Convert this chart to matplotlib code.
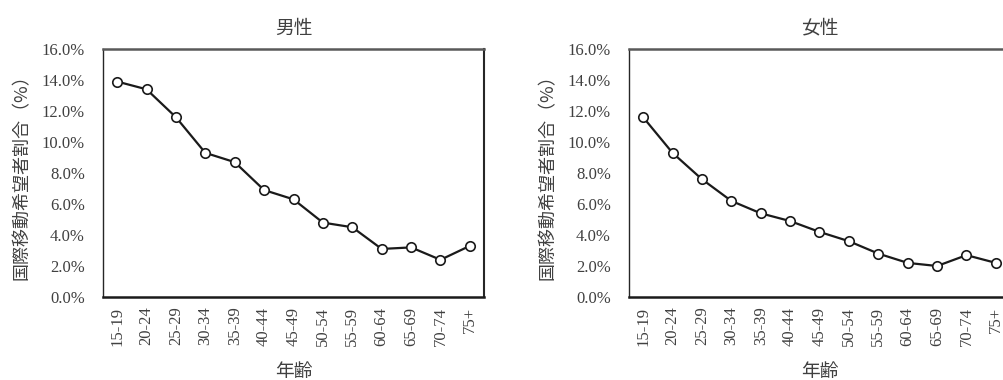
import matplotlib
matplotlib.use("Agg")
import matplotlib.pyplot as plt
from matplotlib.ticker import FuncFormatter, MultipleLocator

age_groups = ["15-19", "20-24", "25-29", "30-34", "35-39", "40-44", "45-49",
              "50-54", "55-59", "60-64", "65-69", "70-74", "75+"]
male_pct = [13.9, 13.4, 11.6, 9.3, 8.7, 6.9, 6.3, 4.8, 4.5, 3.1, 3.2, 2.4, 3.3]
female_pct = [11.6, 9.3, 7.6, 6.2, 5.4, 4.9, 4.2, 3.6, 2.8, 2.2, 2.0, 2.7, 2.2]
panel_titles = ["男性", "女性"]
y_label = "国際移動希望者割合（%）"
x_label = "年齢"

JP = ["Noto Sans CJK JP", "DejaVu Sans"]
NUM = ["Liberation Serif", "DejaVu Serif"]
TEXT_COLOR = "#404040"
LINE_COLOR = "#1a1a1a"

fig = plt.figure(figsize=(10.04, 3.8), dpi=100)
W, H = 1004, 380
ax_w = (484 - 103) / W
ax_b = 1 - 297 / H
ax_h = (297 - 49) / H
positions = [[103 / W, ax_b, ax_w, ax_h], [629 / W, ax_b, ax_w, ax_h]]

for pos, title, values in zip(positions, panel_titles, [male_pct, female_pct]):
    ax = fig.add_axes(pos)
    x = list(range(len(age_groups)))
    ax.plot(x, values, color=LINE_COLOR, lw=1.6, marker="o", ms=6.8,
            mfc="white", mec=LINE_COLOR, mew=1.2, zorder=3)
    ax.set_xlim(-0.48, len(age_groups) - 0.52)
    ax.set_ylim(0, 16)
    ax.yaxis.set_major_locator(MultipleLocator(2))
    ax.yaxis.set_major_formatter(FuncFormatter(lambda v, _: f"{v:.1f}%"))
    ax.set_xticks(x)
    ax.set_xticklabels(age_groups, rotation=90)
    ax.tick_params(axis="both", length=0, labelsize=12, colors=TEXT_COLOR)
    ax.tick_params(axis="y", pad=13)
    ax.tick_params(axis="x", pad=7)
    for lab in ax.get_xticklabels() + ax.get_yticklabels():
        lab.set_fontfamily(NUM)
    ax.spines["top"].set_color("#595959")
    ax.spines["top"].set_linewidth(1.8)
    ax.spines["right"].set_color("#262626")
    ax.spines["right"].set_linewidth(1.5)
    ax.spines["left"].set_color("#262626")
    ax.spines["left"].set_linewidth(1.0)
    ax.spines["bottom"].set_color("#1a1a1a")
    ax.spines["bottom"].set_linewidth(1.8)
    ax.set_title(title, family=JP, fontsize=13.5, color=TEXT_COLOR, pad=11)
    ax.set_ylabel(y_label, family=JP, fontsize=13, color=TEXT_COLOR, labelpad=8)
    ax.set_xlabel(x_label, family=JP, fontsize=13.5, color=TEXT_COLOR, labelpad=11)

fig.savefig("out.png", dpi=100)
